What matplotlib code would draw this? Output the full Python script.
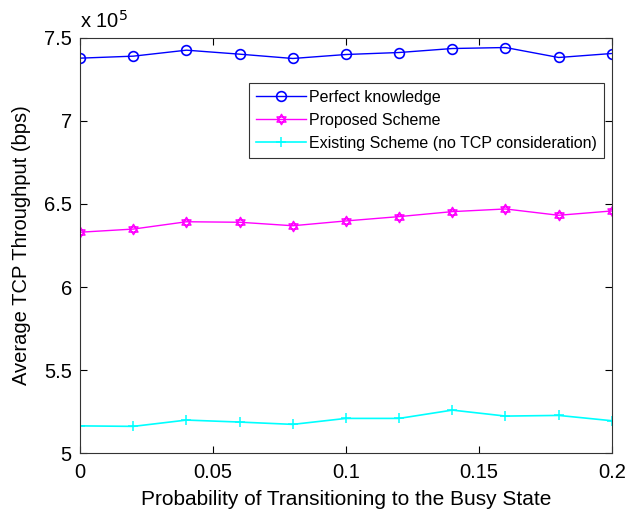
import numpy as np
import matplotlib
matplotlib.use("Agg")
import matplotlib.pyplot as plt
from matplotlib.path import Path

plt.rcParams['font.family'] = ['Liberation Sans', 'DejaVu Sans']

# busy-state transition probability
p_busy = [0, 0.02, 0.04, 0.06, 0.08, 0.1, 0.12, 0.14, 0.16, 0.18, 0.2]

# average throughput, units of 1e5 bps
perfect = [7.378, 7.390, 7.426, 7.402, 7.376, 7.400, 7.412, 7.436, 7.442, 7.382, 7.406]
proposed = [6.330, 6.349, 6.393, 6.390, 6.369, 6.398, 6.424, 6.454, 6.470, 6.432, 6.458]
existing = [5.164, 5.161, 5.199, 5.187, 5.173, 5.209, 5.209, 5.259, 5.223, 5.227, 5.195]

x_ticks = [0, 0.05, 0.1, 0.15, 0.2]
y_ticks = [5, 5.5, 6, 6.5, 7, 7.5]

# hexagram marker: two overlapping triangles
ang_up = np.deg2rad([90, 210, 330, 90])
ang_dn = np.deg2rad([270, 30, 150, 270])
tri_up = Path(np.column_stack([np.cos(ang_up), np.sin(ang_up)]),
              [Path.MOVETO, Path.LINETO, Path.LINETO, Path.CLOSEPOLY])
tri_dn = Path(np.column_stack([np.cos(ang_dn), np.sin(ang_dn)]),
              [Path.MOVETO, Path.LINETO, Path.LINETO, Path.CLOSEPOLY])
hexagram = Path.make_compound_path(tri_up, tri_dn)

fig = plt.figure(figsize=(6.36, 5.12), dpi=100)
ax = fig.add_axes([0.126, 0.115, 0.836, 0.811])

ax.plot(p_busy, perfect, color='#0000ff', marker='o', markersize=7,
        markerfacecolor='none', markeredgewidth=1.2, linewidth=1,
        label='Perfect knowledge')
ax.plot(p_busy, proposed, color='#ff00ff', marker=hexagram, markersize=7.5,
        markerfacecolor='none', markeredgewidth=1.0, linewidth=1,
        label='Proposed Scheme')
ax.plot(p_busy, existing, color='#00ffff', marker='+', markersize=7,
        markeredgewidth=1.1, linewidth=1.2,
        label='Existing Scheme (no TCP consideration)')

ax.set_xlim(0, 0.2)
ax.set_ylim(5, 7.5)
ax.set_xticks(x_ticks)
ax.set_xticklabels(['0', '0.05', '0.1', '0.15', '0.2'])
ax.set_yticks(y_ticks)
ax.set_yticklabels(['5', '5.5', '6', '6.5', '7', '7.5'])
ax.tick_params(direction='in', top=True, right=True, labelsize=14.5, length=5)
ax.tick_params(axis='x', pad=7)
ax.tick_params(axis='y', pad=6)
for s in ax.spines.values():
    s.set_color('#333333')

ax.text(0.0, 1.015, r'x 10$^5$', transform=ax.transAxes, fontsize=14.5,
        ha='left', va='bottom')

ax.set_xlabel('Probability of Transitioning to the Busy State', fontsize=15,
              labelpad=6)
ax.set_ylabel('Average TCP Throughput (bps)', fontsize=14.5, labelpad=9)

leg = ax.legend(loc='upper right', bbox_to_anchor=(0.985, 0.892), fontsize=11.5,
                fancybox=False, edgecolor='#333333', framealpha=1,
                handlelength=3.1, handletextpad=0.2, borderpad=0.45,
                labelspacing=0.5, borderaxespad=0)
leg.get_frame().set_linewidth(0.8)

fig.savefig('out.png', dpi=100)
